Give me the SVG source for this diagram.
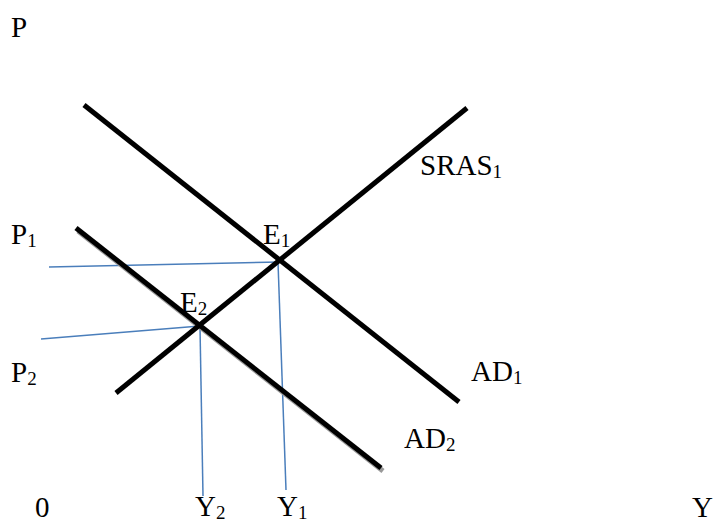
<svg xmlns="http://www.w3.org/2000/svg" width="715" height="523" viewBox="0 0 715 523">
<style>
.curve{stroke:#000;stroke-width:5;fill:none}
.shadow{stroke:#999;stroke-width:5;fill:none}
.guide{stroke:#4a7ebb;stroke-width:1.5;fill:none}
text{font-family:"Liberation Serif","Times New Roman",serif;font-size:29px;fill:#000}
.sub{font-size:19px}
</style>
<rect width="715" height="523" fill="#fff"/>
<g id="connectors">
<line class="guide" x1="49" y1="267" x2="280" y2="262"/>
<line class="guide" x1="278" y1="262" x2="286" y2="490"/>
<line class="guide" x1="41" y1="339" x2="200" y2="326"/>
<line class="guide" x1="200" y1="327" x2="203" y2="496"/>
</g>
<g id="AD2">
<line class="shadow" x1="78" y1="231" x2="383" y2="471"/>
<line class="curve" x1="76" y1="228" x2="381" y2="468"/>
<text x="404" y="448">AD<tspan class="sub" dy="3">2</tspan></text>
</g>
<g id="AD1">
<line class="curve" x1="84" y1="105" x2="459" y2="402"/>
<text x="471" y="381">AD<tspan class="sub" dy="3">1</tspan></text>
</g>
<g id="SRAS1">
<line class="curve" x1="116" y1="393" x2="467" y2="108"/>
<text x="420" y="175">SRAS<tspan class="sub" dy="3">1</tspan></text>
</g>
<g id="E1"><text x="263" y="244">E<tspan class="sub" dy="3">1</tspan></text></g>
<g id="E2"><text x="180" y="312">E<tspan class="sub" dy="3">2</tspan></text></g>
<g id="axis-labels">
<text x="11" y="37">P</text>
<text x="11" y="244">P<tspan class="sub" dy="3">1</tspan></text>
<text x="11" y="382">P<tspan class="sub" dy="3">2</tspan></text>
<text x="35" y="517">0</text>
<text x="195" y="516">Y<tspan class="sub" dy="3">2</tspan></text>
<text x="277" y="516">Y<tspan class="sub" dy="3">1</tspan></text>
<text x="692" y="517">Y</text>
</g>
</svg>
